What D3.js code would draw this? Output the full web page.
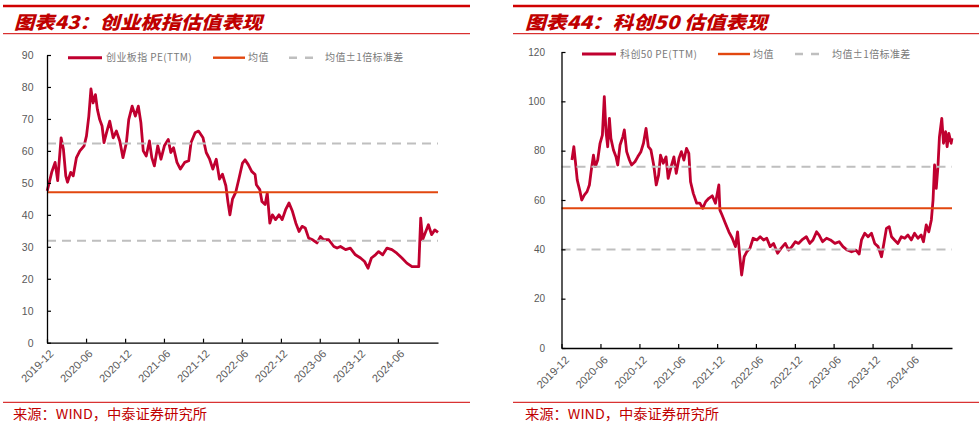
<!DOCTYPE html>
<html><head><meta charset="utf-8">
<script src="https://cdn.jsdelivr.net/npm/d3@7"></script>
<style>body{margin:0;background:#fff}svg{display:block}</style>
</head><body>
<script>
// ---------- DATA ----------
const xTickLabels = ["2019-12","2020-06","2020-12","2021-06","2021-12","2022-06","2022-12","2023-06","2023-12","2024-06"];

const cybDates = ["2019-12-02","2019-12-23","2020-01-08","2020-01-20","2020-02-05","2020-02-16","2020-02-27","2020-03-06","2020-03-21","2020-04-02","2020-04-17","2020-05-03","2020-05-23","2020-06-03","2020-06-14","2020-06-24","2020-07-04","2020-07-15","2020-07-24","2020-08-04","2020-08-15","2020-08-24","2020-09-05","2020-09-20","2020-10-06","2020-10-21","2020-11-06","2020-11-21","2020-12-07","2020-12-18","2021-01-03","2021-01-18","2021-02-01","2021-02-13","2021-02-24","2021-03-10","2021-03-25","2021-04-05","2021-04-17","2021-05-03","2021-05-18","2021-06-03","2021-06-21","2021-07-03","2021-07-16","2021-08-01","2021-08-17","2021-09-06","2021-09-25","2021-10-06","2021-10-25","2021-11-10","2021-12-01","2021-12-16","2022-01-01","2022-01-16","2022-02-01","2022-02-16","2022-03-02","2022-03-18","2022-03-28","2022-04-06","2022-04-18","2022-05-03","2022-05-18","2022-06-04","2022-06-16","2022-07-01","2022-07-17","2022-08-02","2022-08-08","2022-08-24","2022-09-03","2022-09-18","2022-09-28","2022-10-10","2022-10-22","2022-11-06","2022-11-22","2022-12-07","2022-12-23","2023-01-08","2023-01-24","2023-02-09","2023-02-24","2023-03-10","2023-03-25","2023-04-10","2023-04-29","2023-05-19","2023-06-04","2023-06-19","2023-07-13","2023-08-06","2023-08-21","2023-09-06","2023-09-30","2023-10-22","2023-11-15","2023-12-09","2023-12-28","2024-01-13","2024-01-29","2024-02-17","2024-03-03","2024-03-22","2024-04-11","2024-05-04","2024-05-27","2024-06-20","2024-07-13","2024-08-06","2024-09-07","2024-09-16","2024-09-25","2024-10-07","2024-10-22","2024-11-06","2024-11-21","2024-12-06"];
const cybPE = [47.5,53.3,56.4,50.7,64.1,60.5,52.2,50.2,53.3,52.2,57.9,60.0,61.6,64.7,70.9,79.4,75.0,77.6,73.0,69.8,67.8,62.6,65.7,69.3,64.1,66.2,63.1,57.9,62.6,69.8,74.0,70.9,74.0,68.8,60.0,58.4,63.1,57.9,55.3,61.6,57.4,61.6,63.6,59.5,61.0,56.4,54.3,56.4,56.9,62.6,65.7,66.2,64.1,59.5,57.4,54.3,57.4,51.2,52.7,49.1,43.9,40.0,44.9,47.0,51.2,56.2,57.2,55.7,53.6,52.6,49.4,47.9,44.2,43.2,46.8,37.4,40.0,38.5,40.0,38.5,41.6,43.7,41.1,37.4,34.8,36.4,35.9,32.7,32.2,31.2,33.2,32.2,32.2,30.1,29.6,30.1,29.1,29.6,27.5,26.5,25.4,23.3,26.5,27.5,28.5,27.5,29.6,29.1,28.0,26.5,24.9,23.8,23.8,39.0,32.2,34.3,36.9,33.8,35.3,34.5];
const cybStats = [47.1, 62.3, 31.9]; // mean, mean+1sd, mean-1sd

const kc50Dates = ["2020-01-19","2020-01-28","2020-02-04","2020-02-13","2020-02-26","2020-03-05","2020-03-17","2020-03-30","2020-04-10","2020-04-18","2020-04-29","2020-05-08","2020-05-19","2020-05-30","2020-06-10","2020-06-19","2020-06-27","2020-07-05","2020-07-13","2020-07-20","2020-08-01","2020-08-13","2020-08-21","2020-09-01","2020-09-14","2020-09-21","2020-10-02","2020-10-15","2020-10-25","2020-11-10","2020-11-23","2020-12-08","2020-12-20","2021-01-01","2021-01-12","2021-01-24","2021-02-06","2021-02-18","2021-03-01","2021-03-10","2021-03-23","2021-04-05","2021-04-15","2021-04-29","2021-05-12","2021-05-23","2021-06-05","2021-06-16","2021-06-28","2021-07-10","2021-07-21","2021-07-29","2021-08-11","2021-08-27","2021-09-11","2021-09-24","2021-10-08","2021-10-23","2021-11-08","2021-11-23","2021-12-09","2021-12-14","2021-12-24","2022-01-09","2022-01-25","2022-02-10","2022-02-25","2022-03-07","2022-03-16","2022-03-26","2022-04-07","2022-04-19","2022-05-04","2022-05-19","2022-06-06","2022-06-21","2022-07-07","2022-07-22","2022-08-07","2022-08-23","2022-09-11","2022-09-27","2022-10-17","2022-11-02","2022-11-17","2022-12-03","2022-12-18","2023-01-03","2023-01-24","2023-02-09","2023-02-24","2023-03-13","2023-03-25","2023-04-10","2023-04-29","2023-05-17","2023-06-07","2023-06-27","2023-07-15","2023-08-04","2023-08-24","2023-09-14","2023-09-29","2023-10-10","2023-10-25","2023-11-10","2023-11-26","2023-12-11","2023-12-27","2024-01-12","2024-01-23","2024-02-04","2024-02-17","2024-02-28","2024-03-13","2024-03-29","2024-04-14","2024-04-30","2024-05-15","2024-05-31","2024-06-15","2024-07-01","2024-07-16","2024-07-27","2024-08-09","2024-08-21","2024-09-02","2024-09-10","2024-09-17","2024-09-25","2024-10-03","2024-10-10","2024-10-21","2024-10-29","2024-11-08","2024-11-15","2024-11-23","2024-12-04","2024-12-08"];
const kc50PE = [76.2,81.6,75.9,68.1,63.4,60.0,62.0,63.4,66.1,71.5,78.2,73.5,76.2,83.0,86.3,101.9,87.7,81.6,93.1,85.0,80.3,77.5,74.2,82.3,85.6,88.4,79.6,76.2,74.2,75.5,77.5,79.6,83.0,89.0,81.6,80.3,74.2,66.1,70.1,78.2,74.9,77.5,68.8,73.5,77.5,70.8,76.9,79.6,76.2,80.9,78.9,67.4,62.7,58.7,58.7,56.6,59.3,60.7,61.7,58.7,66.1,55.9,53.9,50.5,47.1,44.5,41.1,47.1,38.4,29.6,37.0,39.0,40.4,44.5,43.8,45.1,43.8,44.5,41.1,42.4,38.4,40.4,42.4,39.7,41.1,43.1,42.4,43.8,45.1,42.4,43.8,47.1,45.8,43.1,44.5,43.8,42.4,43.1,41.1,39.7,39.0,39.7,38.1,43.8,46.5,45.1,46.5,42.4,41.1,37.0,42.4,48.5,49.2,45.1,43.8,42.4,45.1,44.5,45.8,43.8,46.5,44.5,45.8,43.1,49.9,47.1,51.9,60.0,74.2,64.7,73.5,85.6,93.1,83.0,87.7,81.6,87.0,83.0,85.0];
const kc50Stats = [56.7, 73.5, 39.9];

const cybYTicks = [0,10,20,30,40,50,60,70,80,90];
const kc50YTicks = [0,20,40,60,80,100,120];

const titles = ["图表43：创业板指估值表现","图表44：科创50 估值表现"];
const seriesNames = ["创业板指 PE(TTM)","科创50 PE(TTM)"];
const legendMean = "均值";
const legendBand = "均值±1倍标准差";
const sourceText = "来源：WIND，中泰证券研究所";

// ---------- STYLE ----------
const RED = "#c0002f", ORANGE = "#e2470f", GREY = "#bfbfbf", TITLE_RED = "#c00000";
const parse = d3.timeParse("%Y-%m-%d");
const parseM = d3.timeParse("%Y-%m");

const svg = d3.select("body").append("svg").attr("width",979).attr("height",426);
svg.append("rect").attr("width",979).attr("height",426).attr("fill","#fff");

function panel(o){
  const g = svg.append("g");
  // header rules + title
  g.append("line").attr("x1",o.hx0).attr("x2",o.hx1).attr("y1",6).attr("y2",6).attr("stroke","#d00000").attr("stroke-width",2.6);
  g.append("line").attr("x1",o.hx0).attr("x2",o.hx1).attr("y1",33.7).attr("y2",33.7).attr("stroke","#d00000").attr("stroke-width",1);
  g.append("text").attr("x",o.tx).attr("y",28.5).text(o.title)
    .attr("font-family","'Noto Sans CJK SC'").attr("font-weight",900).attr("font-style","italic")
    .attr("font-size",18).attr("fill",TITLE_RED).attr("textLength",o.tw).attr("lengthAdjust","spacingAndGlyphs");
  // footer
  g.append("line").attr("x1",o.hx0).attr("x2",o.hx1).attr("y1",402.3).attr("y2",402.3).attr("stroke","#d00000").attr("stroke-width",1);
  g.append("text").attr("x",o.sx).attr("y",419).text(sourceText)
    .attr("font-family","'Noto Sans CJK SC'").attr("font-size",13.5).attr("fill",TITLE_RED)
    .attr("textLength",194).attr("lengthAdjust","spacingAndGlyphs");

  const dates = o.dates.map(parse);
  const x = d3.scaleTime().domain([parse("2019-12-01"), dates[dates.length-1]]).range([o.x0,o.x1]);
  const y = d3.scaleLinear().domain([0,o.yMax]).range([o.yB,o.yT]);
  const pts = dates.map((d,i)=>[d,o.vals[i]]);

  // series
  g.append("path").datum(pts).attr("fill","none").attr("stroke",RED).attr("stroke-width",2.8)
    .attr("stroke-linejoin","round")
    .attr("d", d3.line().x(d=>x(d[0])).y(d=>y(d[1])));
  // mean & bands
  const [m,u,l] = o.stats;
  [u,l].forEach(v=>{
    g.append("line").attr("x1",o.x0).attr("x2",o.x1).attr("y1",y(v)).attr("y2",y(v))
      .attr("stroke",GREY).attr("stroke-width",2).attr("stroke-dasharray","9,6");
  });
  g.append("line").attr("x1",o.x0).attr("x2",o.x1).attr("y1",y(m)).attr("y2",y(m))
    .attr("stroke",ORANGE).attr("stroke-width",2);

  // axes
  const ya = g.append("g").attr("transform",`translate(${o.x0},0)`)
    .call(d3.axisLeft(y).tickValues(o.yTicks).tickSizeInner(-4).tickSizeOuter(0).tickPadding(o.yPad));
  ya.select(".domain").attr("stroke","#000").attr("stroke-width",1.3);
  ya.selectAll(".tick line").attr("stroke","#000").attr("stroke-width",1.2);
  ya.selectAll("text").attr("font-family","'Liberation Sans',Arial,sans-serif").attr("font-size",o.yFont).attr("fill","#595959");

  const xa = g.append("g").attr("transform",`translate(0,${o.yB})`)
    .call(d3.axisBottom(x).tickValues(xTickLabels.map(parseM)).tickSizeInner(-4).tickSizeOuter(0).tickFormat(d3.timeFormat("%Y-%m")));
  xa.select(".domain").attr("stroke","#000").attr("stroke-width",1.3);
  xa.selectAll(".tick line").attr("stroke","#000").attr("stroke-width",1.2);
  xa.selectAll("text").attr("x",0).attr("y",0).attr("dy","0.35em")
    .attr("text-anchor","end").attr("transform",`translate(${o.lx},${o.ly}) rotate(-45)`)
    .attr("font-family","'Liberation Sans',Arial,sans-serif").attr("font-size",11).attr("fill","#595959");

  // legend
  const lg = g.append("g").attr("font-family","'Noto Sans CJK SC'").attr("font-size",10).attr("fill","#7a7a7a").attr("letter-spacing",0.4);
  const ly = o.legY;
  lg.append("line").attr("x1",o.leg[0]).attr("x2",o.leg[0]+34).attr("y1",ly).attr("y2",ly).attr("stroke",RED).attr("stroke-width",3);
  lg.append("text").attr("x",o.leg[1]).attr("y",ly+3.5).text(o.name);
  lg.append("line").attr("x1",o.leg[2]).attr("x2",o.leg[2]+32).attr("y1",ly).attr("y2",ly).attr("stroke",ORANGE).attr("stroke-width",2.4);
  lg.append("text").attr("x",o.leg[3]).attr("y",ly+3.5).text(legendMean);
  lg.append("line").attr("x1",o.leg[4]).attr("x2",o.leg[4]+26).attr("y1",ly).attr("y2",ly).attr("stroke",GREY).attr("stroke-width",2.4).attr("stroke-dasharray","8,8");
  lg.append("text").attr("x",o.leg[5]).attr("y",ly+3.5).text(legendBand);
}

panel({title:titles[0], name:seriesNames[0], dates:cybDates, vals:cybPE, stats:cybStats, yTicks:cybYTicks, yMax:90,
  x0:47, x1:438, yT:55, yB:342.7, hx0:3, hx1:470, tx:14, tw:248, sx:13, yPad:13.5, yFont:10.5, lx:4, ly:9,
  legY:57.7, leg:[68,106,213,248,289,325]});
panel({title:titles[1], name:seriesNames[1], dates:kc50Dates, vals:kc50PE, stats:kc50Stats, yTicks:kc50YTicks, yMax:120,
  x0:561.5, x1:952, yT:52, yB:348, hx0:513, hx1:979, tx:525, tw:242, sx:525, yPad:16.5, yFont:10, lx:5, ly:10,
  legY:54, leg:[582,620,718,753,795,832]});
</script>
</body></html>
